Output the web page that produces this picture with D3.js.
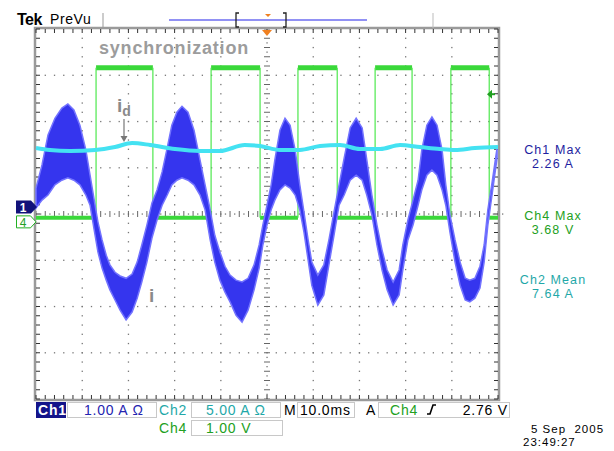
<!DOCTYPE html>
<html>
<head>
<meta charset="utf-8">
<script src="https://cdn.jsdelivr.net/npm/d3@7"></script>
<style>
  body { margin: 0; background: #fff; }
  text { font-family: "Liberation Sans", Arial, sans-serif; }
</style>
</head>
<body>
<svg width="614" height="451"></svg>
<script>
// Ch1 (current i, 1.00 A/div): envelope of the noisy trace, min and max per time
var ch1Time = [0,1.3,2.6,4.1,5.6,6.9,8.2,9.5,10.8,11.7,12.6,13.4,14.3,15.2,16.0,17.1,18.2,19.5,20.8,21.9,22.9,24.0,25.1,26.2,27.3,28.4,29.4,30.5,31.6,32.9,34.2,35.5,36.6,37.7,38.7,39.8,40.9,42.0,43.3,44.6,45.9,47.2,48.3,49.1,50.0,50.9,51.7,52.8,53.9,55.0,56.1,57.1,58.0,58.9,59.7,61.0,62.3,63.4,64.5,65.6,66.7,68.0,69.3,70.6,71.6,72.7,73.8,74.9,76.0,77.3,78.6,79.4,80.5,81.6,82.7,83.5,84.6,85.7,86.8,87.9,88.7,89.6,90.7,91.8,92.9,93.9,95.0,96.1,97.0,97.8,98.7,99.8];
var ch1Max = [0.41,0.91,1.56,1.92,2.14,2.23,2.10,1.77,1.23,0.69,0.15,-0.32,-0.71,-1.04,-1.25,-1.41,-1.49,-1.54,-1.45,-1.19,-0.82,-0.39,0.09,0.37,0.76,1.28,1.77,2.05,2.18,2.05,1.66,1.02,0.48,-0.06,-0.61,-0.97,-1.28,-1.47,-1.58,-1.62,-1.54,-1.25,-0.82,-0.39,0.04,0.48,1.02,1.66,1.92,1.77,1.23,0.48,-0.11,-0.71,-1.19,-1.47,-1.25,-0.71,-0.11,0.48,1.06,1.71,1.92,1.71,1.02,0.26,-0.39,-0.93,-1.36,-1.62,-1.36,-0.82,-0.28,0.15,0.58,1.23,1.77,1.95,1.77,1.23,0.48,-0.17,-0.71,-1.19,-1.54,-1.58,-1.54,-1.28,-0.82,-0.06,0.52,1.28];
var ch1Min = [-0.02,0.15,0.26,0.48,0.58,0.63,0.58,0.48,0.26,0.04,-0.50,-0.97,-1.32,-1.58,-1.79,-2.01,-2.23,-2.44,-2.27,-1.97,-1.62,-1.19,-0.67,-0.28,0.04,0.26,0.48,0.58,0.63,0.58,0.48,0.26,-0.06,-0.71,-1.19,-1.58,-1.84,-2.05,-2.34,-2.49,-2.23,-1.79,-1.32,-0.82,-0.39,-0.06,0.15,0.37,0.48,0.41,0.26,-0.06,-0.54,-1.15,-1.69,-2.12,-1.90,-1.25,-0.61,0.04,0.26,0.58,0.69,0.58,0.26,-0.17,-0.82,-1.36,-1.79,-2.12,-1.90,-1.36,-0.71,-0.39,0.04,0.37,0.69,0.80,0.69,0.37,0.04,-0.54,-1.19,-1.69,-2.01,-2.05,-1.97,-1.75,-1.19,-0.39,0.26,1.06];

// Ch2 (current id, 5.00 A/div)
var ch2Time = [0,3.0,7.4,12.8,17.1,20.8,24.7,30.1,35.5,39.8,45.2,48.5,52.8,57.1,61.5,65.8,70.1,74.5,78.8,83.1,87.4,90.7,95.0,100];
var ch2Value = [7.63,7.42,7.31,7.42,7.74,8.17,7.96,7.52,7.31,7.31,7.96,7.85,7.42,7.42,7.85,7.96,7.52,7.52,7.96,7.74,7.52,7.42,7.63,7.74];

// Ch4 (synchronization signal, 1.00 V/div)
var ch4Edges = [13.0,25.3,37.9,48.5,56.7,65.2,73.4,81.4,89.8,98.1];
var ch4Levels = [0.09, 3.33];

var measureLabels = [["Ch1 Max", "2.26 A"], ["Ch4 Max", "3.68 V"], ["Ch2 Mean", "7.64 A"]];
var measureColors = ["#1e1ea0", "#22a022", "#1fa8a8"];

var svg = d3.select("svg"),
    width = +svg.attr("width"),
    height = +svg.attr("height");

// 10 ms/div over 10 divisions, 8 vertical divisions
var x = d3.scaleLinear().domain([0, 100]).range([36, 498]);
var yDiv = d3.scaleLinear().domain([-4, 4]).range([399, 29]);

function ch1(v) { return yDiv(v / 1.0 + 0.15); }
function ch2(v) { return yDiv(v / 5.0 - 0.10); }
function ch4(v) { return yDiv(v / 1.0 - 0.17); }

// ---- graticule ----
var grid = svg.append("g").attr("class", "graticule");
var minorX = d3.range(0, 100.01, 2),
    minorY = d3.range(-4, 4.01, 0.2);

// dotted division lines
d3.range(1, 10).filter(function(d) { return d != 5; }).forEach(function(k) {
  grid.selectAll(null).data(minorY).enter().append("rect")
    .attr("x", x(k * 10) - 0.6).attr("y", function(d) { return yDiv(d) - 0.6; })
    .attr("width", 1.3).attr("height", 1.3).attr("fill", "#777");
});
d3.range(-3, 4).filter(function(d) { return d != 0; }).forEach(function(k) {
  grid.selectAll(null).data(minorX).enter().append("rect")
    .attr("x", function(d) { return x(d) - 0.6; }).attr("y", yDiv(k) - 0.6)
    .attr("width", 1.3).attr("height", 1.3).attr("fill", "#777");
});

// centre axes with minor ticks
grid.selectAll(null).data(minorY).enter().append("line")
  .attr("x1", x(50) - 3).attr("x2", x(50) + 3)
  .attr("y1", function(d) { return yDiv(d); }).attr("y2", function(d) { return yDiv(d); })
  .attr("stroke", "#666").attr("stroke-width", 1);
grid.selectAll(null).data(minorX).enter().append("line")
  .attr("y1", yDiv(0) - 3).attr("y2", yDiv(0) + 3)
  .attr("x1", function(d) { return x(d); }).attr("x2", function(d) { return x(d); })
  .attr("stroke", "#666").attr("stroke-width", 1);
grid.selectAll(null).data(minorY).enter().append("rect")
  .attr("x", x(50) - 0.6).attr("y", function(d) { return yDiv(d) + 4; })
  .attr("width", 1.3).attr("height", 1.3).attr("fill", "#777");
grid.selectAll(null).data(minorX).enter().append("rect")
  .attr("x", function(d) { return x(d) + 4; }).attr("y", yDiv(0) - 0.6)
  .attr("width", 1.3).attr("height", 1.3).attr("fill", "#777");

// frame with inward ticks
grid.append("rect")
  .attr("x", x(0) - 1).attr("y", yDiv(4) - 1)
  .attr("width", x(100) - x(0) + 2).attr("height", yDiv(-4) - yDiv(4) + 2)
  .attr("fill", "none").attr("stroke", "#9a9a9a").attr("stroke-width", 2.5);
grid.selectAll(null).data(minorX).enter().append("path")
  .attr("d", function(d) { return "M" + x(d) + "," + yDiv(4) + "v4M" + x(d) + "," + yDiv(-4) + "v-4"; })
  .attr("stroke", "#333").attr("stroke-width", 1);
grid.selectAll(null).data(minorY).enter().append("path")
  .attr("d", function(d) { return "M" + x(0) + "," + yDiv(d) + "h4M" + x(100) + "," + yDiv(d) + "h-4"; })
  .attr("stroke", "#333").attr("stroke-width", 1);

// ---- traces ----
var traces = svg.append("g").attr("class", "traces");

// Ch4 square wave
var segStart = [0].concat(ch4Edges),
    segEnd = ch4Edges.concat([100]);
traces.selectAll(".ch4-level").data(segStart).enter().append("line")
  .attr("class", "ch4-level")
  .attr("x1", function(d) { return x(d); })
  .attr("x2", function(d, i) { return x(segEnd[i]); })
  .attr("y1", function(d, i) { return ch4(ch4Levels[i % 2]); })
  .attr("y2", function(d, i) { return ch4(ch4Levels[i % 2]); })
  .attr("stroke", "#3ad83a").attr("stroke-width", function(d, i) { return i % 2 ? 5 : 4; });
traces.selectAll(".ch4-edge").data(ch4Edges).enter().append("line")
  .attr("class", "ch4-edge")
  .attr("x1", function(d) { return x(d); }).attr("x2", function(d) { return x(d); })
  .attr("y1", ch4(ch4Levels[0])).attr("y2", ch4(ch4Levels[1]))
  .attr("stroke", "#4de84d").attr("stroke-width", 1.2);

// Ch1 current envelope
var ch1Area = d3.area()
  .x(function(d, i) { return x(ch1Time[i]); })
  .y0(function(d, i) { return ch1(ch1Min[i]); })
  .y1(function(d, i) { return ch1(ch1Max[i]); })
  .curve(d3.curveLinear);
traces.append("path")
  .attr("d", ch1Area(ch1Time))
  .attr("fill", "#3535ee")
  .attr("stroke", "#7373ff").attr("stroke-width", 1.5);

// Ch2 current
var ch2Line = d3.line()
  .x(function(d, i) { return x(ch2Time[i]); })
  .y(function(d, i) { return ch2(ch2Value[i]); })
  .curve(d3.curveMonotoneX);
traces.append("path")
  .attr("d", ch2Line(ch2Time))
  .attr("fill", "none").attr("stroke", "#44e2f2").attr("stroke-width", 4);

// ---- markers ----
// channel ground markers
svg.append("path")
  .attr("d", "M16," + (ch1(0) - 6.5) + "h15l6,6.5l-6,6.5h-15z")
  .attr("fill", "#12127a");
svg.append("text").attr("x", 23).attr("y", ch1(0) + 5)
  .attr("text-anchor", "middle").attr("font-size", 12).attr("font-weight", "bold")
  .attr("fill", "#fff").text("1");
svg.append("path")
  .attr("d", "M16.5," + (ch4(0) - 6) + "h14l5.5,6l-5.5,6h-14z")
  .attr("fill", "#fff").attr("stroke", "#22b022").attr("stroke-width", 1);
svg.append("text").attr("x", 23).attr("y", ch4(0) + 5)
  .attr("text-anchor", "middle").attr("font-size", 12)
  .attr("fill", "#22a022").text("4");

// trigger level marker (2.76 V on Ch4)
svg.append("path")
  .attr("d", "M487," + ch4(2.76) + "l5,-4.5v9z")
  .attr("fill", "#22a022");
svg.append("line")
  .attr("x1", 491).attr("x2", 495).attr("y1", ch4(2.76)).attr("y2", ch4(2.76))
  .attr("stroke", "#22a022").attr("stroke-width", 2);

// trigger position marker
svg.append("path")
  .attr("d", "M" + (x(50) - 5) + ",30h10l-5,6z")
  .attr("fill", "#f08020");

// ---- header ----
svg.append("text").attr("x", 17).attr("y", 25)
  .attr("font-size", 16).attr("font-weight", "bold").attr("letter-spacing", -0.5)
  .attr("fill", "#000").text("Tek");
svg.append("text").attr("x", 50).attr("y", 24)
  .attr("font-size", 14).attr("letter-spacing", 0.6)
  .attr("fill", "#000").text("PreVu");
svg.append("line").attr("x1", 103).attr("x2", 103).attr("y1", 13).attr("y2", 28)
  .attr("stroke", "#999").attr("stroke-width", 1);
svg.append("line").attr("x1", 433).attr("x2", 433).attr("y1", 13).attr("y2", 28)
  .attr("stroke", "#bbb").attr("stroke-width", 1);
svg.append("line").attr("x1", 169).attr("x2", 367).attr("y1", 20).attr("y2", 20)
  .attr("stroke", "#6c6cf0").attr("stroke-width", 1.5);
svg.append("path").attr("d", "M239,13h-3v14h3M283,13h3v14h-3")
  .attr("fill", "none").attr("stroke", "#222").attr("stroke-width", 1.3);
svg.append("path").attr("d", "M265,14h6l-3,3z").attr("fill", "#f08020");

// ---- annotations ----
svg.append("text").attr("x", 99).attr("y", 54)
  .attr("font-size", 18).attr("font-weight", "bold").attr("letter-spacing", 0.8)
  .attr("fill", "#9c9c9c").text("synchronization");
var idLabel = svg.append("text").attr("x", 117).attr("y", 112)
  .attr("font-size", 19).attr("font-weight", "bold").attr("fill", "#8a8a8a");
idLabel.append("tspan").text("i");
idLabel.append("tspan").attr("dy", 4).attr("font-size", 14).text("d");
svg.append("line").attr("x1", 124).attr("x2", 124).attr("y1", 119).attr("y2", 138)
  .attr("stroke", "#777").attr("stroke-width", 1.2);
svg.append("path").attr("d", "M120.5,136l3.5,6l3.5,-6z").attr("fill", "#777");
svg.append("text").attr("x", 149).attr("y", 302)
  .attr("font-size", 19).attr("font-weight", "bold").attr("fill", "#8a8a8a").text("i");

// ---- measurements ----
var meas = svg.append("g").attr("font-size", 12.5).attr("letter-spacing", 1.1).attr("text-anchor", "middle");
measureLabels.forEach(function(m, i) {
  var y0 = [154, 220, 284][i];
  meas.append("text").attr("x", 553).attr("y", y0).attr("fill", measureColors[i]).text(m[0]);
  meas.append("text").attr("x", 553).attr("y", y0 + 14).attr("fill", measureColors[i]).text(m[1]);
});

// ---- readout ----
var ro = svg.append("g").attr("font-size", 14).attr("letter-spacing", 0.8);
function box(x0, y0, w) {
  ro.append("rect").attr("x", x0 + 0.5).attr("y", y0 + 0.5).attr("width", w).attr("height", 15)
    .attr("fill", "#fff").attr("stroke", "#c8c8c8").attr("stroke-width", 1);
}
ro.append("rect").attr("x", 36).attr("y", 402).attr("width", 30).attr("height", 16).attr("fill", "#14148a");
ro.append("text").attr("x", 38).attr("y", 415).attr("fill", "#fff").attr("font-weight", "bold").text("Ch1");
box(67, 402, 89);
ro.append("text").attr("x", 84).attr("y", 415).attr("fill", "#2424b0").text("1.00 A \u03A9");
ro.append("text").attr("x", 159).attr("y", 415).attr("fill", "#1fa8a8").text("Ch2");
box(191, 402, 89);
ro.append("text").attr("x", 206).attr("y", 415).attr("fill", "#1fa8a8").text("5.00 A \u03A9");
ro.append("text").attr("x", 284).attr("y", 415).attr("fill", "#000").text("M");
box(297, 402, 57);
ro.append("text").attr("x", 300).attr("y", 415).attr("fill", "#000").text("10.0ms");
ro.append("text").attr("x", 366).attr("y", 415).attr("fill", "#000").text("A");
box(378, 402, 131);
ro.append("text").attr("x", 390).attr("y", 415).attr("fill", "#22a022").text("Ch4");
ro.append("path").attr("d", "M427,414h3l3,-9h3").attr("fill", "none").attr("stroke", "#000").attr("stroke-width", 1.6);
ro.append("text").attr("x", 508).attr("y", 415).attr("text-anchor", "end").attr("fill", "#000").text("2.76 V");
ro.append("text").attr("x", 159).attr("y", 433).attr("fill", "#22a022").text("Ch4");
box(191, 420, 91);
ro.append("text").attr("x", 206).attr("y", 433).attr("fill", "#22a022").text("1.00 V");

// date / time stamp
var stamp = svg.append("g").attr("font-size", 11.5).attr("letter-spacing", 1).attr("fill", "#000");
stamp.append("text").attr("x", 531).attr("y", 433).attr("xml:space", "preserve").text("5 Sep  2005");
stamp.append("text").attr("x", 523).attr("y", 446).text("23:49:27");
</script>
</body>
</html>
